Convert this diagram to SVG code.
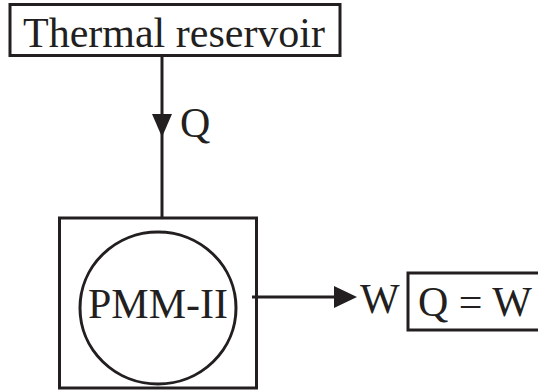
<svg xmlns="http://www.w3.org/2000/svg" width="538" height="392" viewBox="0 0 538 392">
<style>
.box{fill:none;stroke:#231f20;stroke-width:3}
.ln{stroke:#231f20;stroke-width:3;fill:none}
.ah{fill:#231f20}
text{font-family:"Liberation Serif","Times New Roman",serif;font-size:42px;fill:#231f20}
</style>
<rect width="538" height="392" fill="#fff"/>
<g id="reservoir">
<rect class="box" x="10" y="4.5" width="330" height="51"/>
<text x="23" y="47">Thermal reservoir</text>
</g>
<g id="engine">
<rect class="box" x="59.5" y="218" width="197" height="170"/>
<ellipse class="box" cx="158" cy="308" rx="78" ry="76"/>
<text x="158" y="318" text-anchor="middle">PMM-II</text>
</g>
<g id="equation">
<rect class="box" x="408" y="273" width="133" height="57"/>
<text x="418" y="316">Q = W</text>
</g>
<g id="connectors">
<line class="ln" x1="162" y1="55" x2="162" y2="218"/>
<polygon class="ah" points="152,114 172,114 162,137"/>
<text x="180" y="137">Q</text>
<line class="ln" x1="252" y1="297" x2="340" y2="297"/>
<polygon class="ah" points="334,286 334,308 357,297"/>
<text x="360" y="313">W</text>
</g>
</svg>
